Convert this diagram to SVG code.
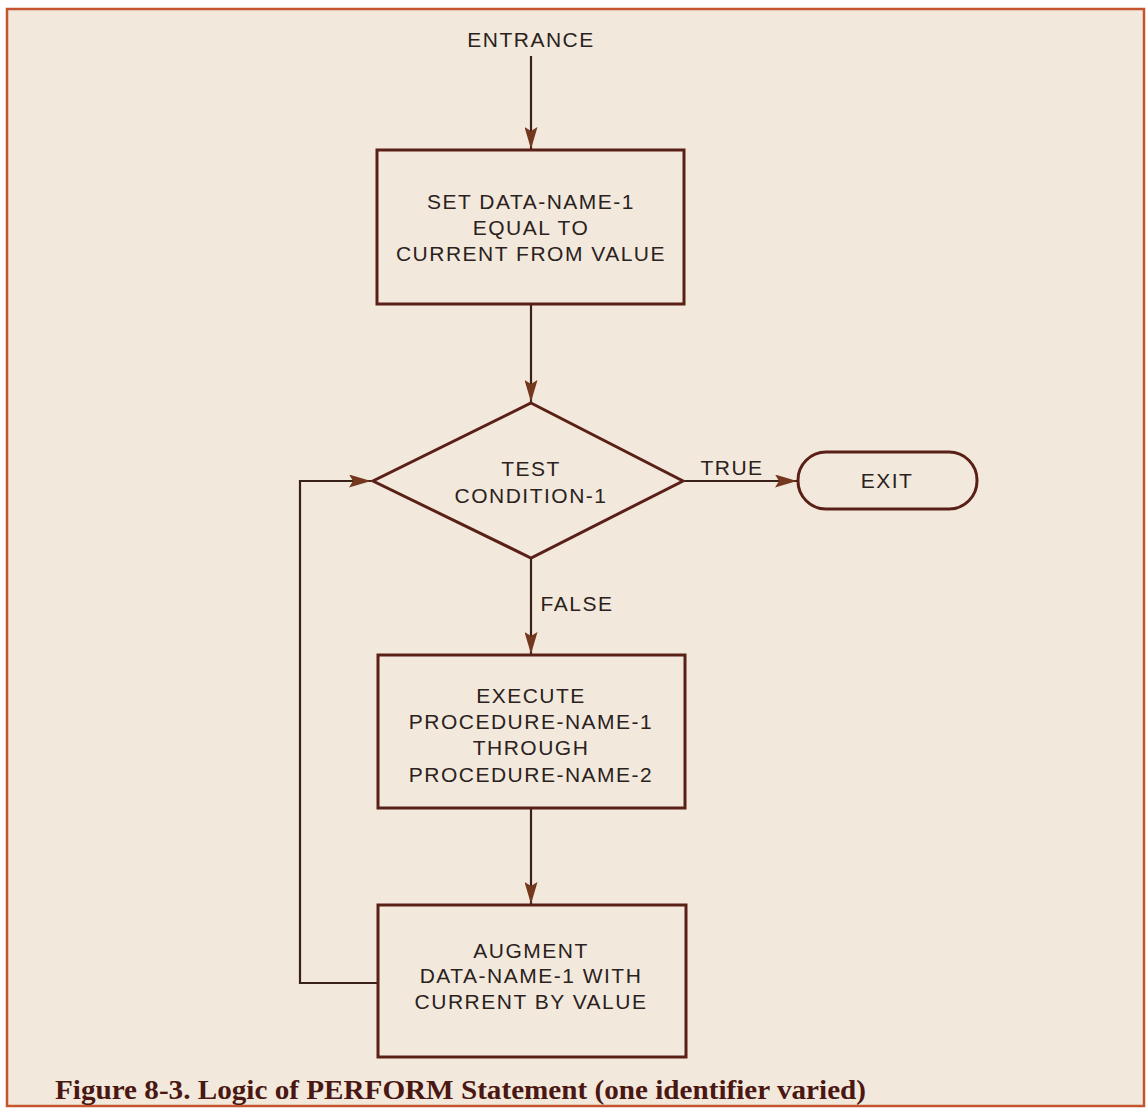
<svg xmlns="http://www.w3.org/2000/svg" width="1148" height="1110" viewBox="0 0 1148 1110">
  <style>
    .box { fill: none; stroke: #5a2018; stroke-width: 3; }
    .wire { fill: none; stroke: #3a2019; stroke-width: 2.2; }
    .lbl { font-family: "Liberation Sans", Arial, sans-serif; font-size: 21px; fill: #2b211d; text-anchor: middle; letter-spacing: 1.5px; }
    .cap { font-family: "Liberation Serif", "Times New Roman", serif; font-weight: bold; font-size: 27px; fill: #4a1712; }
  </style>
  <defs>
    <marker id="head" viewBox="0 0 22 13" refX="22" refY="6.5" markerWidth="22" markerHeight="13" markerUnits="userSpaceOnUse" orient="auto">
      <path d="M0,0 L22,6.5 L0,13 L4,6.5 Z" fill="#74381f"/>
    </marker>
  </defs>

  <!-- page -->
  <rect x="0" y="0" width="1148" height="1110" fill="#ffffff"/>
  <rect x="7" y="9" width="1137" height="1097" fill="#f2e9dc" stroke="#c4552e" stroke-width="2.5"/>

  <!-- connectors -->
  <g id="connectors">
    <line class="wire" x1="531" y1="56" x2="531" y2="149" marker-end="url(#head)"/>
    <line class="wire" x1="531" y1="305" x2="531" y2="402" marker-end="url(#head)"/>
    <line class="wire" x1="683" y1="481" x2="797" y2="481" marker-end="url(#head)"/>
    <line class="wire" x1="531" y1="558" x2="531" y2="654" marker-end="url(#head)"/>
    <line class="wire" x1="531" y1="809" x2="531" y2="904" marker-end="url(#head)"/>
    <polyline class="wire" points="377,983 300,983 300,481 371,481" marker-end="url(#head)"/>
    <text class="lbl" x="732" y="475">TRUE</text>
    <text class="lbl" x="577" y="611">FALSE</text>
  </g>

  <g id="entrance">
    <text class="lbl" x="531" y="47">ENTRANCE</text>
  </g>

  <g id="set-data-name">
    <rect class="box" x="377" y="150" width="307" height="154"/>
    <text class="lbl" x="531" y="209">SET DATA-NAME-1</text>
    <text class="lbl" x="531" y="235">EQUAL TO</text>
    <text class="lbl" x="531" y="261">CURRENT FROM VALUE</text>
  </g>

  <g id="test-condition">
    <polygon class="box" points="531,403 683,481 531,558 373,481"/>
    <text class="lbl" x="531" y="476">TEST</text>
    <text class="lbl" x="531" y="503">CONDITION-1</text>
  </g>

  <g id="exit">
    <rect class="box" x="798" y="452" width="179" height="57" rx="28" ry="28"/>
    <text class="lbl" x="887" y="488">EXIT</text>
  </g>

  <g id="execute-procedure">
    <rect class="box" x="378" y="655" width="307" height="153"/>
    <text class="lbl" x="531" y="703">EXECUTE</text>
    <text class="lbl" x="531" y="729">PROCEDURE-NAME-1</text>
    <text class="lbl" x="531" y="755">THROUGH</text>
    <text class="lbl" x="531" y="782">PROCEDURE-NAME-2</text>
  </g>

  <g id="augment">
    <rect class="box" x="378" y="905" width="308" height="152"/>
    <text class="lbl" x="531" y="958">AUGMENT</text>
    <text class="lbl" x="531" y="983">DATA-NAME-1 WITH</text>
    <text class="lbl" x="531" y="1009">CURRENT BY VALUE</text>
  </g>

  <text class="cap" x="55" y="1099" textLength="811" lengthAdjust="spacingAndGlyphs">Figure 8-3. Logic of PERFORM Statement (one identifier varied)</text>
</svg>
